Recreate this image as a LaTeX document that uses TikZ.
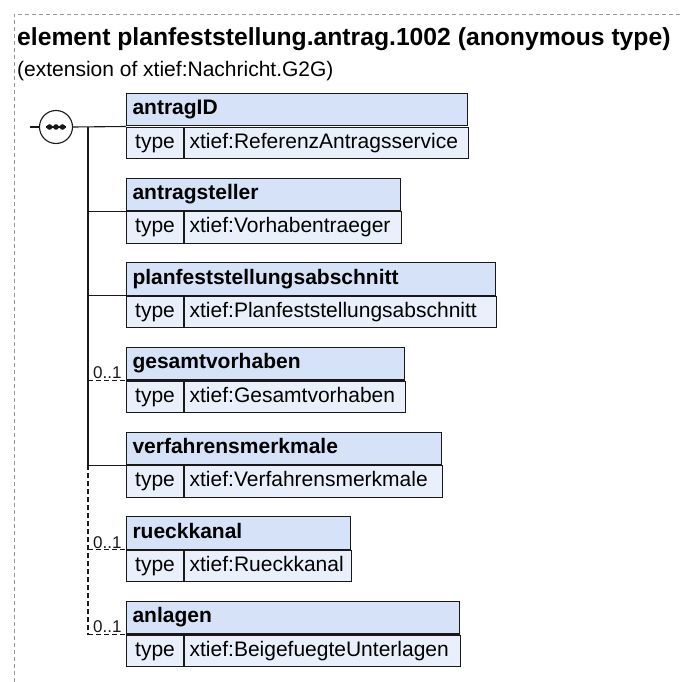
\documentclass[tikz,border=0pt]{standalone}
\usepackage{fontspec}
\setmainfont{Liberation Sans}
\usetikzlibrary{positioning, calc}
\definecolor{mydark}{RGB}{25,25,25}
\definecolor{myframe}{RGB}{150,150,150}
\definecolor{hdrblue}{RGB}{213,226,247}
\definecolor{typeblue}{RGB}{234,240,251}
\tikzset{
  hdrcell/.style={rectangle, draw=mydark, fill=hdrblue, anchor=south west,
    text width=#1, align=left, minimum height=32.5pt, inner xsep=6pt, inner ysep=0pt,
    text height=15pt, text depth=4.5pt,
    font=\fontsize{21}{24}\selectfont\bfseries, line width=1.1pt},
  typelab/.style={rectangle, draw=mydark, fill=typeblue, anchor=north west,
    minimum width=57pt, minimum height=31.5pt, inner sep=0pt,
    text height=15pt, text depth=4.5pt,
    font=\fontsize{21}{24}\selectfont, line width=1.1pt},
  typeval/.style={rectangle, draw=mydark, fill=typeblue, anchor=north west,
    text width=#1, align=left, minimum height=31.5pt, inner xsep=5pt, inner ysep=0pt,
    text height=15pt, text depth=4.5pt,
    font=\fontsize{21}{24}\selectfont, line width=1.1pt},
  seqnode/.style={circle, draw=mydark, fill=white, minimum size=33pt,
    inner sep=0pt, line width=1.1pt},
  conn/.style={line width=1.1pt, color=mydark},
  optconn/.style={conn, dash pattern=on 5pt off 3pt},
  card/.style={anchor=south east, font=\fontsize{17}{20}\selectfont,
    inner sep=1pt, color=mydark}
}

\begin{document}
\begin{tikzpicture}[x=1pt, y=-1pt]
  \useasboundingbox (0,0) rectangle (681,682);

  % Frame
  \draw[myframe, dash pattern=on 4pt off 3pt, line width=0.8pt] (14,682) -- (14,14) -- (681,14);

  % Title
  \node[anchor=base west, inner sep=0pt, font=\fontsize{24.7}{28}\selectfont\bfseries] (title) at (17,46)
    {element planfeststellung.antrag.1002 (anonymous type)};
  \node[anchor=base west, inner sep=0pt, font=\fontsize{21}{24}\selectfont] (subtitle) at (17,77)
    {(extension of xtief:Nachricht.G2G)};

  % Sequence compositor
  \node[seqnode] (seq) at (56,127) {};
  \draw[conn] ([xshift=-10pt]seq.center) -- ([xshift=10pt]seq.center);
  \fill[mydark] ([xshift=-6.5pt]seq.center) circle (2.8pt) (seq.center) circle (2.8pt)
    ([xshift=6.5pt]seq.center) circle (2.8pt);
  \coordinate (stub) at (30,127);
  \coordinate (trunk) at (88,127);

  % antragID
  \node[typelab] (tlab1) at (126,126.5) {type};
  \node[typeval=274pt] (tval1) at (tlab1.north east) {xtief:ReferenzAntragsservice};
  \node[hdrcell=329pt] (hdr1) at (tlab1.north west) {antragID};

  % antragsteller
  \node[typelab] (tlab2) at (126,211.2) {type};
  \node[typeval=207pt] (tval2) at (tlab2.north east) {xtief:Vorhabentraeger};
  \node[hdrcell=262pt] (hdr2) at (tlab2.north west) {antragsteller};

  % planfeststellungsabschnitt
  \node[typelab] (tlab3) at (126,295.8) {type};
  \node[typeval=302pt] (tval3) at (tlab3.north east) {xtief:Planfeststellungsabschnitt};
  \node[hdrcell=357pt] (hdr3) at (tlab3.north west) {planfeststellungsabschnitt};

  % gesamtvorhaben
  \node[typelab] (tlab4) at (126,380.5) {type};
  \node[typeval=211pt] (tval4) at (tlab4.north east) {xtief:Gesamtvorhaben};
  \node[hdrcell=266pt] (hdr4) at (tlab4.north west) {gesamtvorhaben};

  % verfahrensmerkmale
  \node[typelab] (tlab5) at (126,465.2) {type};
  \node[typeval=248pt] (tval5) at (tlab5.north east) {xtief:Verfahrensmerkmale};
  \node[hdrcell=303pt] (hdr5) at (tlab5.north west) {verfahrensmerkmale};

  % rueckkanal
  \node[typelab] (tlab6) at (126,549.8) {type};
  \node[typeval=157pt] (tval6) at (tlab6.north east) {xtief:Rueckkanal};
  \node[hdrcell=212pt] (hdr6) at (tlab6.north west) {rueckkanal};

  % anlagen
  \node[typelab] (tlab7) at (126,634.5) {type};
  \node[typeval=266pt] (tval7) at (tlab7.north east) {xtief:BeigefuegteUnterlagen};
  \node[hdrcell=321pt] (hdr7) at (tlab7.north west) {anlagen};

  % Connectors
  \draw[conn] (stub) -- (seq.west);
  \draw[conn] (seq.east) -- (hdr1.south west);
  \draw[conn] (trunk) -- (trunk |- hdr5.south west);
  \draw[optconn] (trunk |- hdr5.south west) -- (trunk |- hdr7.south west);
  \draw[conn] (trunk |- hdr2.south west) -- (hdr2.south west);
  \draw[conn] (trunk |- hdr3.south west) -- (hdr3.south west);
  \draw[optconn] (trunk |- hdr4.south west) -- (hdr4.south west) node[card, xshift=-3pt] {0..1};
  \draw[conn] (trunk |- hdr5.south west) -- (hdr5.south west);
  \draw[optconn] (trunk |- hdr6.south west) -- (hdr6.south west) node[card, xshift=-3pt] {0..1};
  \draw[optconn] (trunk |- hdr7.south west) -- (hdr7.south west) node[card, xshift=-3pt] {0..1};
\end{tikzpicture}
\end{document}
